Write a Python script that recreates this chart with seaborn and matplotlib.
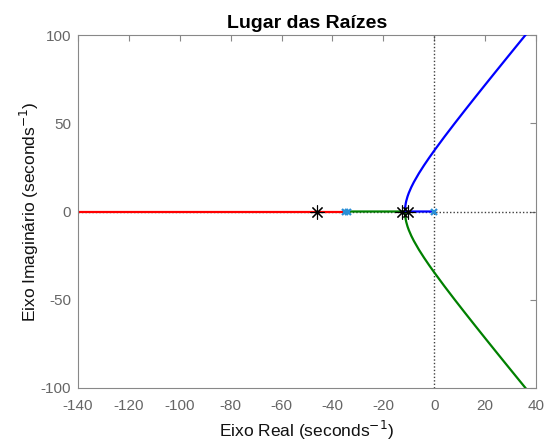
import numpy as np
import pandas as pd
from matplotlib import pyplot as plt
import seaborn as sns

# open-loop poles and the closed-loop poles marked with asterisks
open_loop_poles = [0.0, -34.0, -35.0]
closed_loop_poles = [-46.0, -12.7, -10.3]

# complex branch (upper half: blue, lower half: green)
branch_real = [-11.5, -11.4, -11.2, -11.0, -10.5, -10.0, -9.0, -8.0, -6.0, -4.0, -2.0,
               0.0, 4.0, 8.0, 12.0, 16.0, 20.0, 24.0, 28.0, 32.0, 36.0, 40.0]
blue_imag = [0.0, 2.58, 4.55, 5.92, 8.47, 10.49, 13.82, 16.67, 21.68, 26.19, 30.43,
             34.50, 42.31, 49.86, 57.25, 64.54, 71.76, 78.93, 86.06, 93.16, 100.23, 107.3]
green_imag = [0.0, -2.58, -4.55, -5.92, -8.47, -10.49, -13.82, -16.67, -21.68, -26.19, -30.43,
              -34.50, -42.31, -49.86, -57.25, -64.54, -71.76, -78.93, -86.06, -93.16, -100.23, -107.3]

# real-axis parts of each branch
blue_real_axis = [0.0, -11.5]
green_real_axis = [-34.0, -11.5]
red_real_axis = [-35.0, -150.0]

blue = pd.DataFrame({"re": blue_real_axis + branch_real,
                     "im": [0.0, 0.0] + blue_imag})
green = pd.DataFrame({"re": green_real_axis + branch_real,
                      "im": [0.0, 0.0] + green_imag})
red = pd.DataFrame({"re": red_real_axis, "im": [0.0, 0.0]})

sns.set_style("white")
plt.rcParams["font.family"] = ["Liberation Sans", "DejaVu Sans"]
plt.rcParams["axes.unicode_minus"] = False
plt.rcParams["text.color"] = "black"
plt.rcParams["axes.labelcolor"] = "#111111"

fig = plt.figure(figsize=(5.44, 4.41), dpi=100)
ax = fig.add_axes([0.1434, 0.1202, 0.8419, 0.8004])

# dotted axes through the origin
ax.axvline(0, color="#404040", ls=(0, (1, 1.5)), lw=1.0, zorder=1)
ax.axhline(0, color="#404040", ls=(0, (1, 1.5)), lw=1.0, zorder=1)

sns.lineplot(data=red, x="re", y="im", sort=False, estimator=None, color="#ff0000",
             lw=1.6, ax=ax, zorder=2)
sns.lineplot(data=green, x="re", y="im", sort=False, estimator=None, color="#008000",
             lw=1.6, ax=ax, zorder=3)
sns.lineplot(data=blue, x="re", y="im", sort=False, estimator=None, color="#0000ff",
             lw=1.6, ax=ax, zorder=4)

ax.plot(open_loop_poles, np.zeros(len(open_loop_poles)), ls="none", marker="x",
        ms=4, mew=1.6, color="#2a8fd6", zorder=5)
ax.plot(closed_loop_poles, np.zeros(len(closed_loop_poles)), ls="none",
        marker=(8, 2, 0), ms=10, mew=0.8, color="black", zorder=6)

ax.set_xlim(-140, 40)
ax.set_ylim(-100, 100)
ax.set_xticks(np.arange(-140, 41, 20))
ax.set_yticks([-100, -50, 0, 50, 100])

ax.set_title("Lugar das Raízes", fontsize=14, fontweight="bold", pad=5, color="black")
ax.set_xlabel("Eixo Real (seconds$^{-1}$)", fontsize=12.5, labelpad=4)
ax.set_ylabel("Eixo Imaginário (seconds$^{-1}$)", fontsize=12.5, labelpad=0)

for s in ax.spines.values():
    s.set_color("#888888")
    s.set_linewidth(0.8)
ax.tick_params(direction="in", top=True, right=True, length=4, width=0.8,
               color="#888888", labelcolor="#666666", labelsize=11)
ax.tick_params(axis="x", pad=8)
ax.tick_params(axis="y", pad=5)

plt.savefig("out.png", dpi=100)
